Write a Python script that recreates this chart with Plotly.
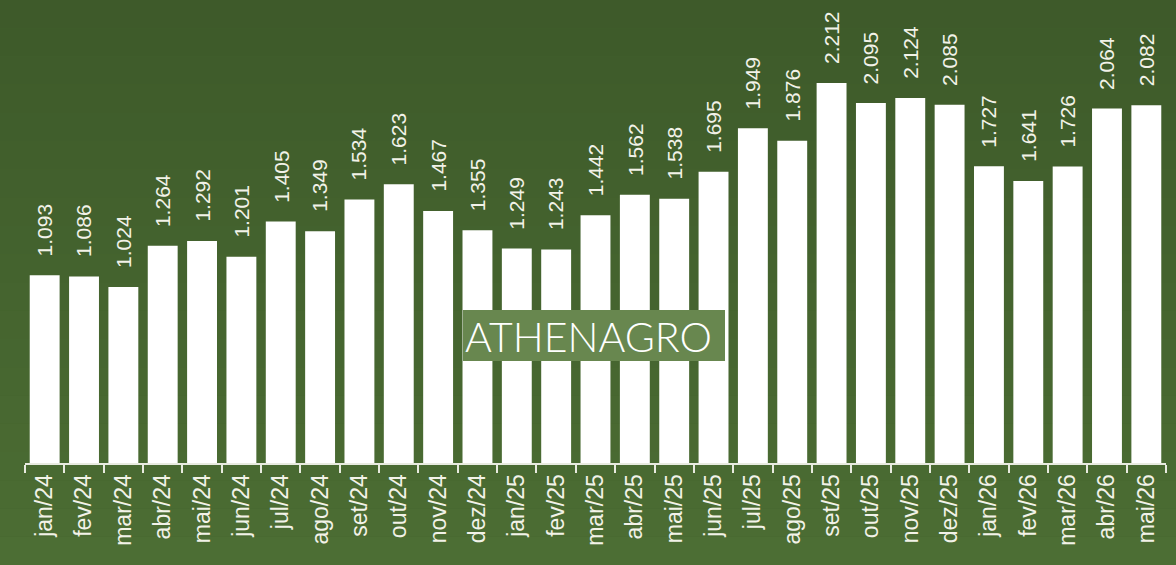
import plotly.graph_objects as go

categories = ["jan/24", "fev/24", "mar/24", "abr/24", "mai/24", "jun/24", "jul/24", "ago/24",
              "set/24", "out/24", "nov/24", "dez/24", "jan/25", "fev/25", "mar/25", "abr/25",
              "mai/25", "jun/25", "jul/25", "ago/25", "set/25", "out/25", "nov/25", "dez/25",
              "jan/26", "fev/26", "mar/26", "abr/26", "mai/26"]
values = [1.093, 1.086, 1.024, 1.264, 1.292, 1.201, 1.405, 1.349, 1.534, 1.623, 1.467, 1.355,
          1.249, 1.243, 1.442, 1.562, 1.538, 1.695, 1.949, 1.876, 2.212, 2.095, 2.124, 2.085,
          1.727, 1.641, 1.726, 2.064, 2.082]
value_labels = [f"{v:.3f}" for v in values]

W, H = 1176, 565
L, R, T, B = 25, 10, 0, 102
PW, PH = W - L - R, H - T - B

fig = go.Figure()
fig.add_trace(go.Bar(x=categories, y=values, marker=dict(color="#ffffff", line=dict(width=0)),
                     hoverinfo="skip"))

annotations = []
for c, v, t in zip(categories, values, value_labels):
    annotations.append(dict(x=c, y=v, text=t, showarrow=False, textangle=-90,
                            xanchor="center", yanchor="bottom", yshift=17,
                            font=dict(family="Liberation Sans, Arial", size=21, color="#f2f2e8")))
annotations.append(dict(x=(588 - L) / PW, y=(H - B - 336) / PH, xref="paper", yref="paper",
                        text="ATHENAGRO", showarrow=False, xanchor="center", yanchor="middle",
                        font=dict(family="Lato", size=41, color="#ffffff", weight=300)))

# background: vertical gradient bands
shapes = []
top = (0x3e, 0x5a, 0x2a)
bot = (0x4c, 0x6e, 0x34)
n = 20
for i in range(n):
    f = i / (n - 1)
    col = tuple(int(top[k] + (bot[k] - top[k]) * f) for k in range(3))
    shapes.append(dict(type="rect", xref="paper", yref="paper", x0=-0.1, x1=1.1,
                       y0=(H - i * H / n - B) / PH, y1=(H - (i + 1) * H / n - B) / PH,
                       fillcolor="rgb(%d,%d,%d)" % col, line=dict(width=0), layer="below"))
# watermark box
shapes.append(dict(type="rect", xref="paper", yref="paper",
                   x0=(463 - L) / PW, x1=(725 - L) / PW,
                   y0=(H - B - 361) / PH, y1=(H - B - 310) / PH,
                   fillcolor="#68874f", line=dict(width=0), layer="above"))

fig.update_layout(
    width=W, height=H,
    margin=dict(l=L, r=R, t=T, b=B),
    paper_bgcolor="#45642f", plot_bgcolor="rgba(0,0,0,0)",
    bargap=0.24, showlegend=False,
    annotations=annotations, shapes=shapes,
    xaxis=dict(showgrid=False, showline=True, linecolor="#e8ebe0", linewidth=2,
               ticks="outside", ticklen=8, tickcolor="#e8ebe0", tickwidth=1.5,
               tickson="boundaries", tickangle=-90,
               tickfont=dict(family="Liberation Sans, Arial", size=23, color="#f2f2e8")),
    yaxis=dict(range=[0, 2.695], visible=False, showgrid=False, zeroline=False),
)
fig.write_html("out.html", config={"displayModeBar": False},
               post_script="document.body.style.margin='0';")
